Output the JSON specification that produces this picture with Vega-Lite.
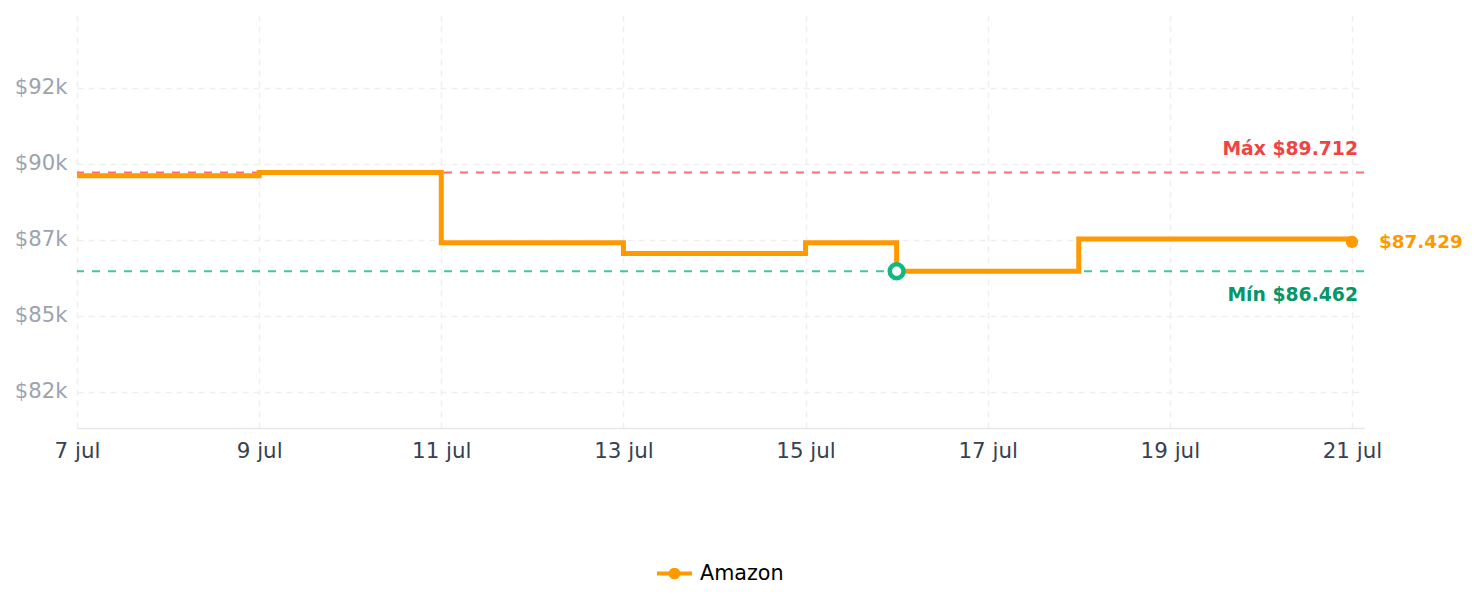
{
  "$schema": "https://vega.github.io/schema/vega-lite/v6.json",
  "autosize": {"type": "none"},
  "padding": {"left": 77, "top": 15, "right": 115, "bottom": 179},
  "width": 1287,
  "height": 413,
  "background": "white",
  "config": {
    "font": "DejaVu Sans",
    "view": {"stroke": null},
    "axis": {"labelFont": "DejaVu Sans"}
  },
  "datasets": {
    "prices": [
      {"date": "2025-07-07", "price": 89610, "store": "Amazon"},
      {"date": "2025-07-08", "price": 89610, "store": "Amazon"},
      {"date": "2025-07-09", "price": 89712, "store": "Amazon"},
      {"date": "2025-07-10", "price": 89712, "store": "Amazon"},
      {"date": "2025-07-11", "price": 87400, "store": "Amazon"},
      {"date": "2025-07-12", "price": 87400, "store": "Amazon"},
      {"date": "2025-07-13", "price": 87050, "store": "Amazon"},
      {"date": "2025-07-14", "price": 87050, "store": "Amazon"},
      {"date": "2025-07-15", "price": 87400, "store": "Amazon"},
      {"date": "2025-07-16", "price": 86462, "store": "Amazon"},
      {"date": "2025-07-17", "price": 86462, "store": "Amazon"},
      {"date": "2025-07-18", "price": 87520, "store": "Amazon"},
      {"date": "2025-07-19", "price": 87520, "store": "Amazon"},
      {"date": "2025-07-20", "price": 87520, "store": "Amazon"},
      {"date": "2025-07-21", "price": 87429, "store": "Amazon"}
    ],
    "notes": [
      {"kind": "max", "date": "2025-07-21", "price": 89712, "label": "Máx $89.712"},
      {"kind": "min", "date": "2025-07-21", "price": 86462, "label": "Mín $86.462"},
      {"kind": "minpt", "date": "2025-07-16", "price": 86462, "label": ""},
      {"kind": "last", "date": "2025-07-21", "price": 87429, "label": "$87.429"}
    ]
  },
  "encoding": {
    "x": {
      "field": "date",
      "type": "temporal",
      "scale": {
        "type": "utc",
        "domain": [
          {"year": 2025, "month": 7, "date": 7, "utc": true},
          {"year": 2025, "month": 7, "date": 21, "hours": 3, "minutes": 10, "utc": true}
        ]
      },
      "axis": {
        "title": null,
        "format": "%-d jul",
        "tickCount": {"interval": "day", "step": 2},
        "ticks": false,
        "domain": true,
        "domainColor": "#e5e7eb",
        "domainWidth": 1.5,
        "labelFontSize": 21.4,
        "labelColor": "#374151",
        "labelPadding": 12,
        "labelFlush": false,
        "labelOverlap": false,
        "grid": true,
        "gridColor": "#efefef",
        "gridWidth": 1.5,
        "gridDash": [6, 5]
      }
    },
    "y": {
      "field": "price",
      "type": "quantitative",
      "scale": {"domain": [81300, 94900], "nice": false, "zero": false},
      "axis": {
        "title": null,
        "values": [82500, 85000, 87500, 90000, 92500],
        "labelExpr": "'$' + floor(datum.value / 1000) + 'k'",
        "ticks": false,
        "domain": false,
        "labelFontSize": 21.2,
        "labelColor": "#9ca3af",
        "labelPadding": 10,
        "grid": true,
        "gridColor": "#efefef",
        "gridWidth": 1.5,
        "gridDash": [6, 5]
      }
    }
  },
  "layer": [
    {
      "data": {"name": "notes"},
      "transform": [{"filter": "datum.kind === 'max'"}],
      "mark": {"type": "rule", "color": "#f87171", "strokeWidth": 2, "strokeDash": [8, 8]},
      "encoding": {"x": null, "y": {"field": "price", "type": "quantitative"}}
    },
    {
      "data": {"name": "notes"},
      "transform": [{"filter": "datum.kind === 'min'"}],
      "mark": {"type": "rule", "color": "#10b981", "opacity": 0.8, "strokeWidth": 2, "strokeDash": [8, 8]},
      "encoding": {"x": null, "y": {"field": "price", "type": "quantitative"}}
    },
    {
      "data": {"name": "prices"},
      "mark": {"type": "line", "interpolate": "step-after", "strokeWidth": 5},
      "encoding": {
        "color": {
          "field": "store",
          "type": "nominal",
          "scale": {"range": ["#ff9900"]},
          "legend": {
            "title": null,
            "orient": "none",
            "legendX": 578,
            "legendY": 539,
            "symbolType": "M-1,0H1M-0.22,0A0.22,0.22,0,1,1,0.22,0A0.22,0.22,0,1,1,-0.22,0Z",
            "symbolSize": 1225,
            "symbolStrokeWidth": 4,
            "symbolFillColor": "#ff9900",
            "symbolStrokeColor": "#ff9900",
            "labelFontSize": 20.7,
            "labelColor": "#000000",
            "labelOffset": 6,
            "labelFont": "DejaVu Sans"
          }
        }
      }
    },
    {
      "data": {"name": "notes"},
      "transform": [{"filter": "datum.kind === 'last'"}],
      "mark": {"type": "point", "filled": true, "color": "#ff9900", "opacity": 1, "size": 150},
      "encoding": {}
    },
    {
      "data": {"name": "notes"},
      "transform": [{"filter": "datum.kind === 'minpt'"}],
      "mark": {"type": "point", "filled": false, "fill": "white", "fillOpacity": 1, "stroke": "#10b981", "strokeWidth": 4.5, "opacity": 1, "size": 190},
      "encoding": {}
    },
    {
      "data": {"name": "notes"},
      "transform": [{"filter": "datum.kind === 'max'"}],
      "mark": {"type": "text", "align": "right", "baseline": "alphabetic", "dx": 6, "dy": -18, "fontSize": 18.8, "fontWeight": "bold", "color": "#ef4444"},
      "encoding": {"text": {"field": "label"}}
    },
    {
      "data": {"name": "notes"},
      "transform": [{"filter": "datum.kind === 'min'"}],
      "mark": {"type": "text", "align": "right", "baseline": "alphabetic", "dx": 6, "dy": 30, "fontSize": 18.8, "fontWeight": "bold", "color": "#059669"},
      "encoding": {"text": {"field": "label"}}
    },
    {
      "data": {"name": "notes"},
      "transform": [{"filter": "datum.kind === 'last'"}],
      "mark": {"type": "text", "align": "left", "baseline": "alphabetic", "dx": 27, "dy": 6, "fontSize": 18.4, "fontWeight": "bold", "color": "#ff9900"},
      "encoding": {"text": {"field": "label"}}
    }
  ]
}
